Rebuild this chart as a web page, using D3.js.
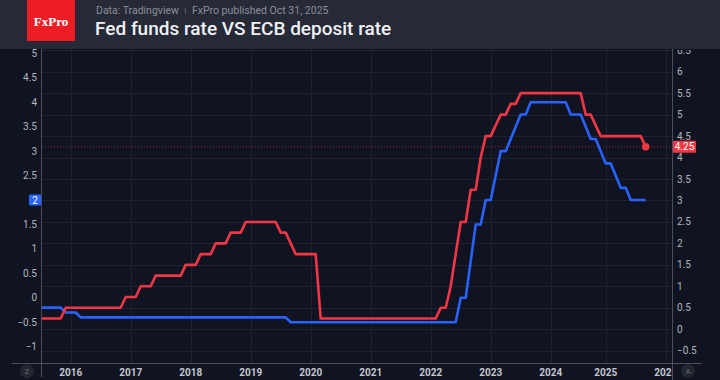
<!DOCTYPE html>
<html><head><meta charset="utf-8">
<script src="https://cdn.jsdelivr.net/npm/d3@7"></script>
<style>
html,body{margin:0;padding:0;background:#0f1420;}
svg{display:block;}
</style></head>
<body>
<svg id="chart" width="720" height="380"></svg>
<script>
// ---- DATA ----
// Monthly bars, Jun 2015 .. Sep 2025 (the source feed has no bar for Feb 2024)
const startMonth = "2015-06";
const skippedMonths = ["2024-02"];
const endMonth = "2025-09";

// Fed funds rate (upper bound), right axis
const fedRate = [
  0.25,0.25,0.25,0.25,0.25,0.25,0.5,                         // 2015 Jun-Dec
  0.5,0.5,0.5,0.5,0.5,0.5,0.5,0.5,0.5,0.5,0.5,0.75,           // 2016
  0.75,0.75,1.0,1.0,1.0,1.25,1.25,1.25,1.25,1.25,1.25,1.5,    // 2017
  1.5,1.5,1.75,1.75,1.75,2.0,2.0,2.0,2.25,2.25,2.25,2.5,      // 2018
  2.5,2.5,2.5,2.5,2.5,2.5,2.25,2.25,2.0,1.75,1.75,1.75,       // 2019
  1.75,1.75,0.25,0.25,0.25,0.25,0.25,0.25,0.25,0.25,0.25,0.25,// 2020
  0.25,0.25,0.25,0.25,0.25,0.25,0.25,0.25,0.25,0.25,0.25,0.25,// 2021
  0.25,0.25,0.5,0.5,1.0,1.75,2.5,2.5,3.25,3.25,4.0,4.5,       // 2022
  4.5,4.75,5.0,5.0,5.25,5.25,5.5,5.5,5.5,5.5,5.5,5.5,         // 2023
  5.5,5.5,5.5,5.5,5.5,5.5,5.5,5.0,5.0,4.75,4.5,               // 2024 (no Feb)
  4.5,4.5,4.5,4.5,4.5,4.5,4.5,4.5,4.25                        // 2025 Jan-Sep
];
// ECB deposit facility rate, left axis
const ecbRate = [
  -0.2,-0.2,-0.2,-0.2,-0.2,-0.2,-0.3,                              // 2015 Jun-Dec
  -0.3,-0.3,-0.4,-0.4,-0.4,-0.4,-0.4,-0.4,-0.4,-0.4,-0.4,-0.4,      // 2016
  -0.4,-0.4,-0.4,-0.4,-0.4,-0.4,-0.4,-0.4,-0.4,-0.4,-0.4,-0.4,      // 2017
  -0.4,-0.4,-0.4,-0.4,-0.4,-0.4,-0.4,-0.4,-0.4,-0.4,-0.4,-0.4,      // 2018
  -0.4,-0.4,-0.4,-0.4,-0.4,-0.4,-0.4,-0.4,-0.5,-0.5,-0.5,-0.5,      // 2019
  -0.5,-0.5,-0.5,-0.5,-0.5,-0.5,-0.5,-0.5,-0.5,-0.5,-0.5,-0.5,      // 2020
  -0.5,-0.5,-0.5,-0.5,-0.5,-0.5,-0.5,-0.5,-0.5,-0.5,-0.5,-0.5,      // 2021
  -0.5,-0.5,-0.5,-0.5,-0.5,-0.5,0.0,0.0,0.75,1.5,1.5,2.0,           // 2022
  2.0,2.5,3.0,3.0,3.25,3.5,3.75,3.75,4.0,4.0,4.0,4.0,               // 2023
  4.0,4.0,4.0,4.0,3.75,3.75,3.75,3.5,3.25,3.25,3.0,                 // 2024 (no Feb)
  2.75,2.75,2.5,2.25,2.25,2.0,2.0,2.0,2.0                           // 2025 Jan-Sep
];
const yearTicks = [2016,2017,2018,2019,2020,2021,2022,2023,2024,2025,2026];
const leftTicks = [-1,-0.5,0,0.5,1,1.5,2,2.5,3,3.5,4,4.5,5];
const rightTicks = [-0.5,0,0.5,1,1.5,2,2.5,3,3.5,4,4.5,5,5.5,6,6.5];
const titleText = "Fed funds rate VS ECB deposit rate";
const subtitleText = "Data: Tradingview";
const subtitleText2 = "FxPro published Oct 31, 2025";
const logoText = "FxPro";

// ---- BUILD BAR DATES ----
const parseM = d3.timeParse("%Y-%m");
const fmtM = d3.timeFormat("%Y-%m");
const bars = d3.timeMonth.range(parseM(startMonth), d3.timeMonth.offset(parseM(endMonth),1))
  .filter(d => !skippedMonths.includes(fmtM(d)));
const fedData = bars.map((d,i)=>({i, date:d, v:fedRate[i]}));
const ecbData = bars.map((d,i)=>({i, date:d, v:ecbRate[i]}));

// index of first bar of each year (future years extrapolated by month)
function yearIndex(y){
  const k = bars.findIndex(d => d.getFullYear()===y);
  if (k>=0) return k;
  const last = bars[bars.length-1];
  return bars.length-1 + d3.timeMonth.count(last, new Date(y,0,1));
}

// ---- LAYOUT ----
const W=720,H=380;
const plot = {left:42, right:672, top:49, bottom:363};
const svg = d3.select("#chart");
const C = {bg:"#0f1420", header:"#262a37", grid:"#1c2230", axis:"#4a4f5c",
  text:"#b2b5be", red:"#f23645", blue:"#2962ff"};

svg.append("rect").attr("width",W).attr("height",H).attr("fill",C.bg);

const i2016 = yearIndex(2016);
const x = d3.scaleLinear().domain([i2016, i2016+12]).range([70.7, 130.7]);
const yR = d3.scaleLinear().domain([-0.5, 6]).range([350.7, 71.7]);
const yL = d3.scaleLinear().domain([-1, 5]).range([346.7, 53.4]);

const defs = svg.append("defs");
defs.append("clipPath").attr("id","plotclip").append("rect")
  .attr("x",plot.left).attr("y",plot.top).attr("width",plot.right-plot.left).attr("height",plot.bottom-plot.top);
defs.append("clipPath").attr("id","xclip").append("rect")
  .attr("x",plot.left).attr("y",plot.bottom).attr("width",plot.right-plot.left).attr("height",H-plot.bottom);
defs.append("clipPath").attr("id","rclip").append("rect")
  .attr("x",plot.right).attr("y",plot.top+1).attr("width",W-plot.right).attr("height",plot.bottom-plot.top-1);

// grid
const g = svg.append("g").attr("clip-path","url(#plotclip)");
g.selectAll("line.h").data(rightTicks).join("line")
  .attr("x1",plot.left).attr("x2",plot.right)
  .attr("y1",d=>Math.round(yR(d))+0.5).attr("y2",d=>Math.round(yR(d))+0.5)
  .attr("stroke",C.grid).attr("stroke-width",1);
g.selectAll("line.v").data(yearTicks).join("line")
  .attr("x1",d=>Math.round(x(yearIndex(d)))+0.5).attr("x2",d=>Math.round(x(yearIndex(d)))+0.5)
  .attr("y1",plot.top).attr("y2",plot.bottom)
  .attr("stroke",C.grid).attr("stroke-width",1);

// last-value dotted line (fed)
const lastFed = fedData[fedData.length-1];
g.append("line").attr("x1",plot.left).attr("x2",plot.right)
  .attr("y1",yR(lastFed.v)).attr("y2",yR(lastFed.v))
  .attr("stroke","#8c2b36").attr("stroke-width",1).attr("stroke-dasharray","1,2");

// lines
const lineR = d3.line().x(d=>x(d.i)).y(d=>yR(d.v));
const lineL = d3.line().x(d=>x(d.i)).y(d=>yL(d.v));
g.append("path").datum(ecbData).attr("d",lineL).attr("fill","none")
  .attr("stroke",C.blue).attr("stroke-width",2.6).attr("stroke-linejoin","round");
g.append("path").datum(fedData).attr("d",lineR).attr("fill","none")
  .attr("stroke",C.red).attr("stroke-width",2.6).attr("stroke-linejoin","round");
g.append("circle").attr("cx",x(lastFed.i)).attr("cy",yR(lastFed.v)).attr("r",3.8).attr("fill",C.red);

// axes lines
svg.append("line").attr("x1",12).attr("x2",702).attr("y1",plot.bottom+0.5).attr("y2",plot.bottom+0.5)
  .attr("stroke",C.axis).attr("stroke-width",1);
svg.append("line").attr("x1",plot.left-0.5).attr("x2",plot.left-0.5).attr("y1",plot.top).attr("y2",377)
  .attr("stroke",C.axis).attr("stroke-width",1);
svg.append("line").attr("x1",plot.right+0.5).attr("x2",plot.right+0.5).attr("y1",plot.top).attr("y2",380)
  .attr("stroke",C.axis).attr("stroke-width",1);

const fmtTick = d => d3.format("")(d).replace("-","\u2212");

// left axis labels
svg.append("g").selectAll("text").data(leftTicks).join("text")
  .attr("x",37).attr("y",d=>yL(d)).attr("dy","0.35em").attr("text-anchor","end")
  .attr("font-family","Roboto, 'Open Sans', sans-serif").attr("font-size",10)
  .attr("fill",C.text).text(fmtTick);

// right axis labels
svg.append("g").attr("clip-path","url(#rclip)").selectAll("text").data(rightTicks).join("text")
  .attr("x",677).attr("y",d=>yR(d)).attr("dy","0.35em").attr("text-anchor","start")
  .attr("font-family","Roboto, 'Open Sans', sans-serif").attr("font-size",10)
  .attr("fill",C.text).text(fmtTick);

// x axis labels
svg.append("g").attr("clip-path","url(#xclip)").selectAll("text").data(yearTicks).join("text")
  .attr("x",d=>x(yearIndex(d))).attr("y",372).attr("dy","0.35em").attr("text-anchor","middle")
  .attr("font-family","Roboto, 'Open Sans', sans-serif").attr("font-size",10).attr("font-weight",700)
  .attr("fill","#c3c6ce").text(d=>d);

// last value labels
const lastEcb = ecbData[ecbData.length-1];
svg.append("rect").attr("x",29).attr("y",yL(lastEcb.v)-5.5).attr("width",12).attr("height",11)
  .attr("fill",C.blue).attr("rx",1);
svg.append("text").attr("x",35).attr("y",yL(lastEcb.v)).attr("dy","0.35em").attr("text-anchor","middle")
  .attr("font-family","Roboto, sans-serif").attr("font-size",10).attr("fill","#fff").text(fmtTick(lastEcb.v));
svg.append("rect").attr("x",673).attr("y",yR(lastFed.v)-6).attr("width",23).attr("height",12)
  .attr("fill",C.red).attr("rx",1);
svg.append("text").attr("x",684.5).attr("y",yR(lastFed.v)).attr("dy","0.35em").attr("text-anchor","middle")
  .attr("font-family","Roboto, sans-serif").attr("font-size",10).attr("fill","#fff").text(fmtTick(lastFed.v));

// Z / A buttons
[[27,"Z"],[688,"A"]].forEach(([cx,t])=>{
  svg.append("circle").attr("cx",cx).attr("cy",371).attr("r",7).attr("fill","#22262f");
  svg.append("text").attr("x",cx).attr("y",371).attr("dy","0.35em").attr("text-anchor","middle")
    .attr("font-family","Roboto, sans-serif").attr("font-size",8).attr("fill","#6a6e78").text(t);
});

// header
svg.append("rect").attr("x",0).attr("y",0).attr("width",W).attr("height",plot.top).attr("fill",C.header);
svg.append("rect").attr("x",27).attr("y",0).attr("width",48).attr("height",41).attr("fill","#ee1c24");
svg.append("text").attr("x",51).attr("y",21).attr("dy","0.35em").attr("text-anchor","middle")
  .attr("font-family","'Liberation Serif', 'DejaVu Serif', serif").attr("font-size",13).attr("font-weight",700)
  .attr("fill","#fff").text(logoText);
const sub = svg.append("text").attr("x",96).attr("y",10).attr("dy","0.35em")
  .attr("font-family","Roboto, sans-serif").attr("font-size",10.5).attr("fill","#8b8e97");
sub.append("tspan").text(subtitleText);
sub.append("tspan").attr("fill","#5d606a").attr("xml:space","preserve").text("\u00a0\u00a0\u0131\u00a0\u00a0");
sub.append("tspan").text(subtitleText2);
svg.append("text").attr("x",95).attr("y",28).attr("dy","0.35em")
  .attr("font-family","Roboto, sans-serif").attr("font-size",19).attr("font-weight",500)
  .attr("fill","#f0f1f4").text(titleText);
</script>
</body></html>
